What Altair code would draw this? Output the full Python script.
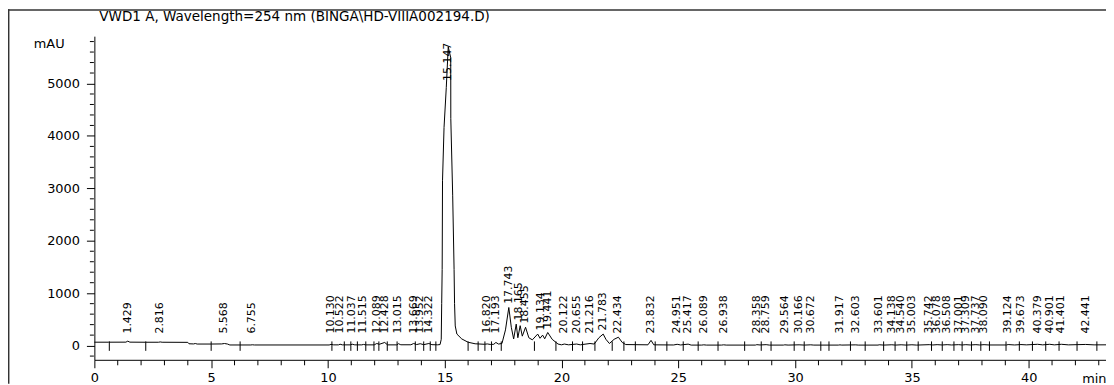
import altair as alt
import pandas as pd

# ---- chromatogram trace (time in min, signal in mAU) ----
time_min = [
    0.00, 0.60, 1.35, 1.43, 1.52, 2.20, 2.75, 2.82, 2.90, 4.00, 4.05, 4.25, 4.32, 4.40,
    5.00, 5.45, 5.57, 5.70, 5.80, 6.70, 6.76, 6.85,
    10.05, 10.13, 10.25, 10.45, 10.52, 10.62, 10.95, 11.04, 11.15, 11.45, 11.52, 11.62,
    11.98, 12.09, 12.20, 12.43, 12.55, 12.95, 13.02, 13.12, 13.55, 13.67, 13.80, 13.95,
    14.10, 14.32, 14.45, 14.70, 14.80, 14.85, 14.87, 14.89, 14.905, 14.97, 15.066, 15.15,
    15.257, 15.26, 15.34, 15.40, 15.42, 15.45, 15.52, 15.73, 16.00, 16.30, 16.70, 16.82,
    16.95, 17.10, 17.19, 17.30, 17.45, 17.60, 17.743, 17.85, 17.95, 18.06, 18.13, 18.23,
    18.32, 18.46, 18.60, 18.75, 18.98, 19.08, 19.19, 19.28, 19.41, 19.60, 19.85, 20.00,
    20.12, 20.30, 20.65, 20.80, 21.22, 21.40, 21.60, 21.783, 21.90, 22.05, 22.25, 22.434,
    22.60, 22.75, 23.70, 23.832, 23.95, 24.80, 24.95, 25.10, 25.42, 25.55, 26.00, 26.09,
    26.20, 26.85, 26.94, 27.05, 28.30, 28.36, 28.50, 28.76, 28.90, 29.50, 29.56, 29.70,
    30.17, 30.40, 30.67, 30.80, 31.85, 31.92, 32.00, 32.60, 32.70, 33.55, 33.60, 33.80,
    34.14, 34.30, 34.54, 34.75, 35.00, 35.20, 35.74, 35.90, 36.08, 36.30, 36.51, 36.70,
    37.00, 37.15, 37.31, 37.50, 37.74, 37.90, 38.09, 38.30, 39.05, 39.12, 39.40, 39.67,
    39.90, 40.38, 40.60, 40.90, 41.10, 41.40, 41.70, 42.44, 42.80, 43.31,
]
signal_mau = [
    65, 65, 66, 85, 66, 64, 64, 70, 64, 62, 35, 32, 40, 30,
    30, 32, 40, 30, 12, 12, 16, 12,
    12, 22, 14, 14, 26, 14, 14, 26, 14, 14, 22, 14,
    14, 40, 25, 60, 14, 14, 36, 16, 16, 40, 20, 36,
    18, 40, 18, 15, 20, 120, 800, 1450, 3155, 4160, 4920, 5700,
    5490, 4330, 2870, 1450, 800, 375, 220, 127, 64, 35, 25, 32,
    22, 25, 60, 30, 40, 300, 727, 350, 127, 410, 150, 380,
    180, 350, 150, 110, 220, 140, 200, 130, 250, 120, 30, 15,
    30, 15, 30, 15, 40, 30, 150, 220, 120, 40, 120, 160,
    60, 20, 15, 100, 15, 12, 25, 12, 28, 10, 10, 15,
    10, 10, 15, 10, 10, 18, 12, 18, 10, 10, 15, 10,
    15, 10, 15, 10, 10, 14, 10, 14, 10, 10, 16, 10,
    16, 10, 16, 10, 16, 10, 18, 12, 18, 12, 18, 12,
    18, 12, 18, 12, 18, 12, 18, 12, 12, 20, 12, 20,
    14, 25, 14, 25, 14, 25, 14, 22, 14, 15,
]

# ---- integrated peaks ----
peak_label = [
    "1.429", "2.816", "5.568", "6.755", "10.130", "10.522", "11.037", "11.515", "12.089",
    "12.428", "13.015", "13.669", "13.952", "14.322", "15.147", "16.820", "17.193", "17.743",
    "18.165", "18.455", "19.134", "19.441", "20.122", "20.655", "21.216", "21.783", "22.434",
    "23.832", "24.951", "25.417", "26.089", "26.938", "28.358", "28.759", "29.564", "30.166",
    "30.672", "31.917", "32.603", "33.601", "34.138", "34.540", "35.003", "35.742", "36.078",
    "36.508", "37.001", "37.309", "37.737", "38.090", "39.124", "39.673", "40.379", "40.901",
    "41.401", "42.441",
]
peak_height = [
    85, 70, 40, 16, 22, 26, 26, 22, 40,
    60, 36, 40, 36, 40, 5700, 32, 60, 727,
    410, 350, 220, 250, 30, 30, 40, 220, 160,
    100, 25, 28, 15, 15, 18, 18, 15, 15,
    15, 14, 14, 16, 16, 16, 16, 18, 18,
    18, 18, 18, 18, 18, 20, 20, 25, 25,
    25, 22,
]

# ---- baseline start/end markers (min) ----
marker_min = [
    0.64, 2.20, 5.00, 6.24, 10.17, 10.70, 10.98, 11.26, 11.62, 11.97, 12.18, 12.54, 12.96,
    13.74, 14.10, 14.38, 14.62, 16.00, 16.43, 16.72, 17.00, 17.42, 18.84, 19.76, 20.47,
    20.90, 21.43, 22.17, 22.67, 23.16, 24.01, 24.51, 25.21, 25.85, 26.70, 27.84, 28.55,
    28.97, 29.96, 30.39, 31.10, 31.45, 32.37, 33.00, 33.79, 34.28, 34.78, 35.27, 35.84,
    36.30, 36.80, 37.15, 37.55, 37.95, 38.32, 39.03, 39.60, 40.16, 40.73, 41.30, 42.07, 42.92,
]

# ---- axis tick values ----
x_major = [0, 5, 10, 15, 20, 25, 30, 35, 40]
x_minor = [v for v in range(0, 44) if v % 5 != 0]
y_major = [0, 1000, 2000, 3000, 4000, 5000]
y_minor = [v for v in range(-200, 5801, 200) if v % 1000 != 0]

title_text = "VWD1 A, Wavelength=254 nm (BINGA\\HD-VIIIA002194.D)"

X_MAX = 43.31
Y_MIN, Y_MAX = -271, 5903
FONT = "DejaVu Sans"

trace = pd.DataFrame({"t": time_min, "v": signal_mau})
peaks = pd.DataFrame({"t": [float(s) for s in peak_label], "label": peak_label, "h": peak_height})
peaks["v"] = [min(max(h + 70, 230), 5050) for h in peak_height]
markers = pd.DataFrame({"t": marker_min})

xscale = alt.Scale(domain=[0, X_MAX], nice=False, zero=False)
yscale = alt.Scale(domain=[Y_MIN, Y_MAX], nice=False, zero=False)

x_axis = alt.Axis(
    title=None, values=x_major, tickSize=8, labelPadding=4,
    labelFlush=False, labelOverlap=False, format="d", grid=False,
)
y_axis = alt.Axis(
    title=None, values=y_major, tickSize=8, labelPadding=7,
    labelOverlap=False, format="d", grid=False,
)

X = alt.X("t:Q", scale=xscale, axis=x_axis)
Y = alt.Y("v:Q", scale=yscale, axis=y_axis)

line = alt.Chart(trace).mark_line(color="black", strokeWidth=1, interpolate="linear").encode(
    x=X, y=Y
)

xminor = alt.Chart(pd.DataFrame({"t": x_minor})).mark_rule(color="black", strokeWidth=1).encode(
    x=X,
    y=alt.value(326.5),
    y2=alt.value(331.5),
)
yminor = alt.Chart(pd.DataFrame({"v": y_minor})).mark_rule(color="black", strokeWidth=1).encode(
    y=Y,
    x=alt.value(-4.5),
    x2=alt.value(-0.5),
)

ticks = alt.Chart(markers).mark_rule(color="black", strokeWidth=1).encode(
    x=X,
    y=alt.YDatum(80, scale=yscale, axis=y_axis),
    y2=alt.Y2Datum(-100),
)

labels = alt.Chart(peaks).mark_text(
    angle=270, align="left", baseline="middle", fontSize=11, font=FONT, color="black"
).encode(x=X, y=Y, text="label:N")

title = alt.Chart(pd.DataFrame({"s": [title_text]})).mark_text(
    align="left", baseline="alphabetic", fontSize=13.6, font=FONT, color="black"
).encode(x=alt.value(5), y=alt.value(-15), text="s:N")

yunit = alt.Chart(pd.DataFrame({"s": ["mAU"]})).mark_text(
    align="right", baseline="alphabetic", fontSize=13, font=FONT, color="black"
).encode(x=alt.value(-30), y=alt.value(12), text="s:N")

xunit = alt.Chart(pd.DataFrame({"s": ["min"]})).mark_text(
    align="left", baseline="alphabetic", fontSize=13, font=FONT, color="black"
).encode(x=alt.value(995), y=alt.value(349), text="s:N")

frame_top = alt.Chart(pd.DataFrame({"a": [0]})).mark_rule(color="#333333", strokeWidth=1.5).encode(
    x=alt.value(-87), x2=alt.value(1019), y=alt.value(-26.3)
)
frame_left = alt.Chart(pd.DataFrame({"a": [0]})).mark_rule(color="#333333", strokeWidth=1.5).encode(
    x=alt.value(-86.3), y=alt.value(-27), y2=alt.value(350)
)

chart = alt.layer(
    line, xminor, yminor, ticks, labels, title, yunit, xunit, frame_top, frame_left
).properties(
    width=1019,
    height=326,
    autosize="none",
    padding={"left": 87, "top": 27, "right": 0, "bottom": 24},
    background="white",
).configure_view(
    stroke=None
).configure_axis(
    grid=False,
    domainColor="black",
    domainWidth=1,
    tickColor="black",
    tickWidth=1,
    labelColor="black",
    labelFont=FONT,
    labelFontSize=13,
)

chart.save("out.html", embed_options={"renderer": "svg", "actions": False})
